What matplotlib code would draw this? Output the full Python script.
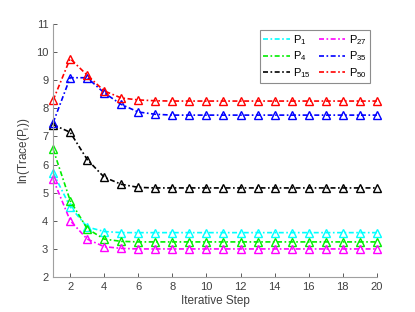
import numpy as np
import matplotlib.pyplot as plt

plt.rcParams['font.family'] = ['Liberation Sans', 'DejaVu Sans']
plt.rcParams['mathtext.fontset'] = 'custom'
plt.rcParams['mathtext.rm'] = 'Liberation Sans'
plt.rcParams['mathtext.it'] = 'Liberation Sans'

steps = np.arange(1, 21)

p1 = [5.71, 4.50, 3.78, 3.62, 3.58] + [3.58] * 15
p4 = [6.55, 4.72, 3.72, 3.35, 3.27] + [3.25] * 15
p15 = [7.42, 7.15, 6.18, 5.55, 5.30, 5.19] + [5.17] * 14
p27 = [5.48, 4.01, 3.35, 3.08, 3.02] + [3.00] * 15
p35 = [7.49, 9.09, 9.09, 8.55, 8.14, 7.87, 7.79] + [7.76] * 13
p50 = [8.29, 9.77, 9.18, 8.62, 8.37, 8.30, 8.27] + [8.26] * 13

series = [p1, p4, p15, p27, p35, p50]
labels = ['$\\mathregular{P_{1}}$', '$\\mathregular{P_{4}}$', '$\\mathregular{P_{15}}$',
          '$\\mathregular{P_{27}}$', '$\\mathregular{P_{35}}$', '$\\mathregular{P_{50}}$']
colors = ['cyan', '#00ee00', 'black', 'magenta', 'blue', 'red']

dashdot = (0, (3, 1.5, 1, 1.5))

fig = plt.figure(figsize=(4.15, 3.12), dpi=100)
ax = fig.add_axes([0.128, 0.112, 0.78, 0.811])

handles = []
for vals, lab, col in zip(series, labels, colors):
    ax.plot(steps, vals, linestyle=dashdot, color=col, linewidth=1.2, clip_on=False,
            marker='^', markersize=5.5, markerfacecolor='none', markeredgewidth=1.0)
    h, = ax.plot([], [], linestyle=dashdot, color=col, linewidth=1.2, label=lab)
    handles.append(h)

ax.set_xlim(1, 20)
ax.set_ylim(2, 11)
ax.set_xticks(np.arange(2, 21, 2))
ax.set_yticks(np.arange(2, 12, 1))
ax.tick_params(direction='in', labelsize=8, colors='#404040', length=3, width=0.6)
for s in ['top', 'right']:
    ax.spines[s].set_visible(False)
for s in ['left', 'bottom']:
    ax.spines[s].set_color('#a0a0a0')
    ax.spines[s].set_linewidth(0.8)

ax.set_xlabel('Iterative Step', fontsize=8.5, color='#404040', labelpad=2)
ax.set_ylabel('ln(Trace($\\mathregular{P_{i}}$))', fontsize=8.5, color='#404040', labelpad=3)

leg = ax.legend(handles=handles, ncol=2, loc='upper right', bbox_to_anchor=(0.985, 0.985),
                fontsize=8, frameon=True, fancybox=False, handlelength=2.4,
                columnspacing=0.7, handletextpad=0.3, labelspacing=0.22, borderpad=0.3,
                borderaxespad=0.2)
leg.get_frame().set_edgecolor('#707070')
leg.get_frame().set_linewidth(0.8)

fig.savefig('out.png', dpi=100)
